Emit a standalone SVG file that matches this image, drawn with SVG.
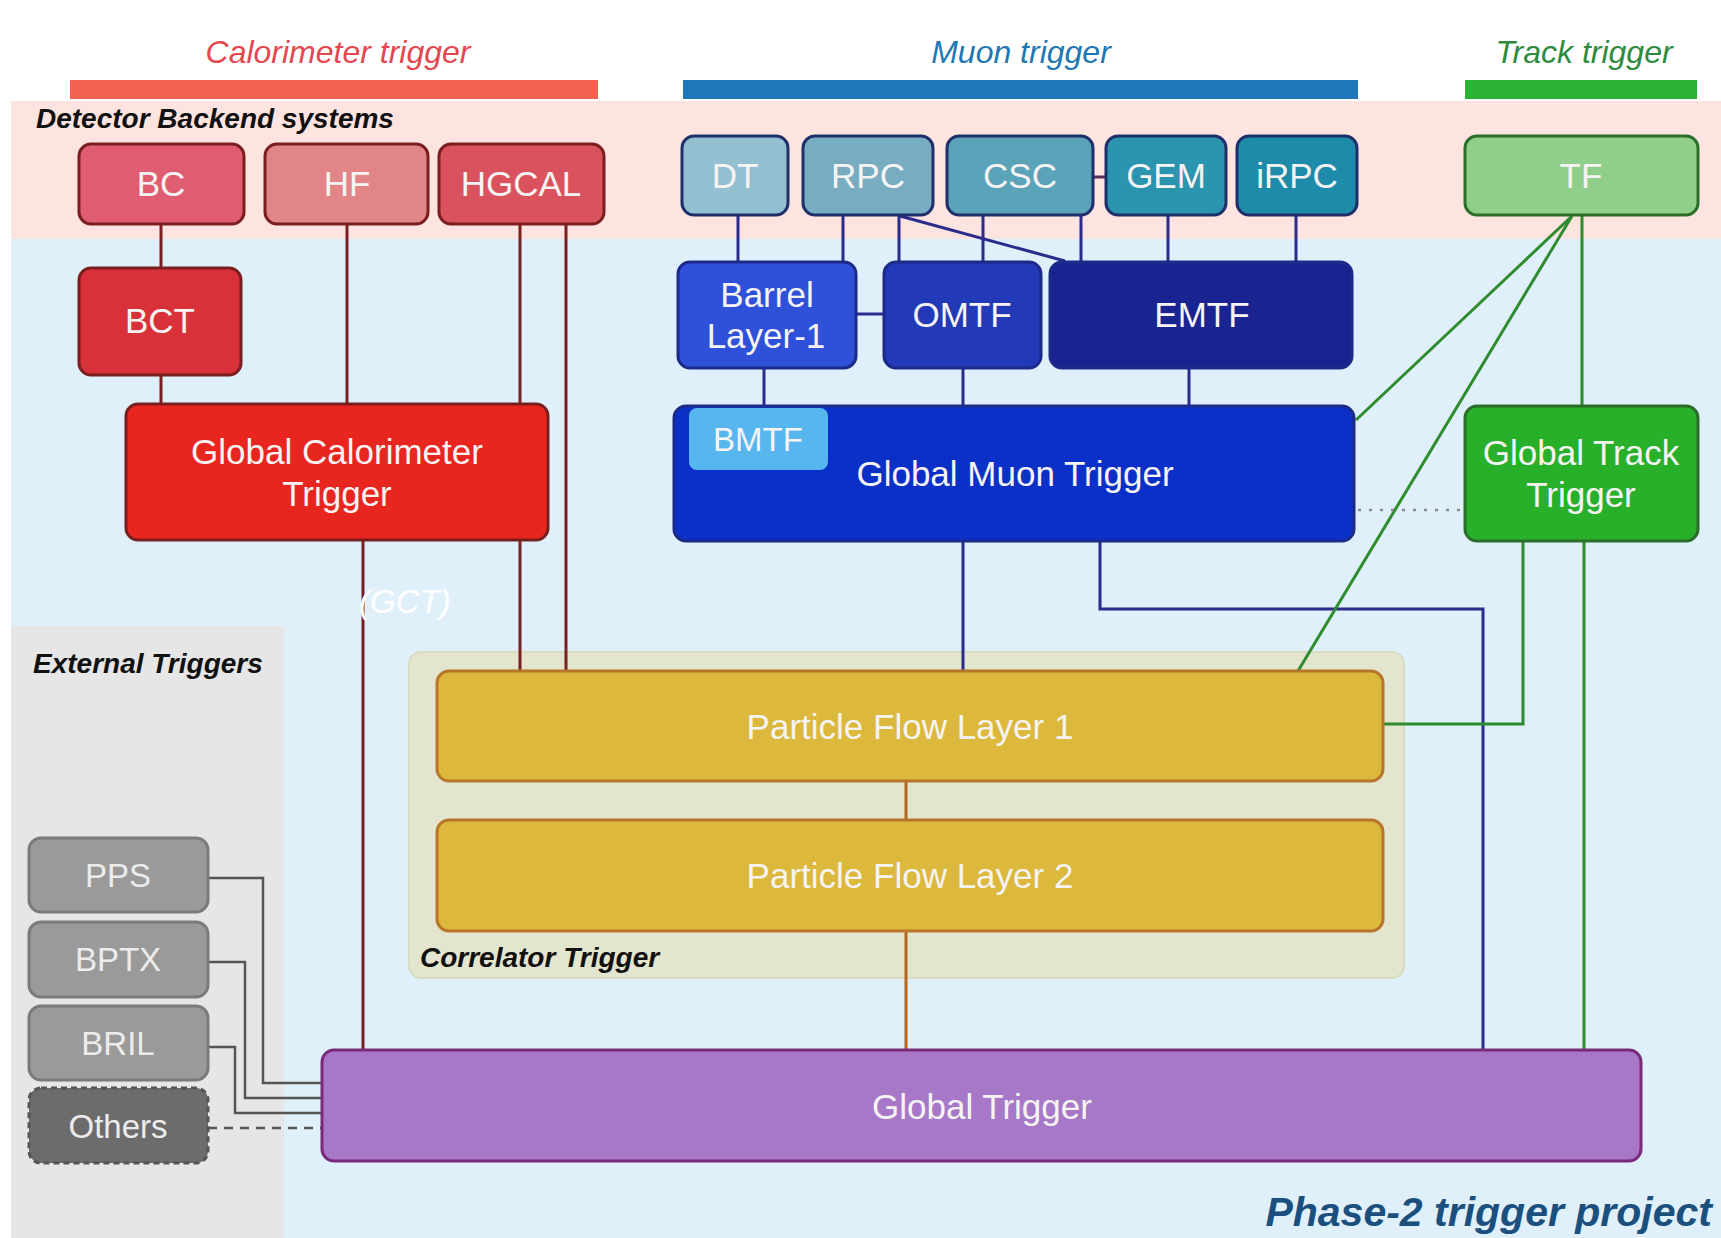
<svg xmlns="http://www.w3.org/2000/svg" width="1721" height="1238" viewBox="0 0 1721 1238">
<style>
  text { font-family: "Liberation Sans", Arial, sans-serif; }
  .lbl { fill: #f6f3f3; font-size: 35px; text-anchor: middle; }
  .ext { fill: #ececec; font-size: 33px; text-anchor: middle; }
  .sec { font-size: 32px; font-style: italic; text-anchor: middle; }
  .grp { font-size: 28px; font-weight: bold; font-style: italic; fill: #111; }
  .box { stroke-width: 3; }
  .cal { stroke: #7a1f1f; }
  .muo { stroke: #1e2f6a; }
  .muo2 { stroke: #1c2a8a; }
  .trk { stroke: #2a6e2a; }
  .extb { fill: #9a9a9a; stroke: #7b7b7b; }
  .c { fill: none; stroke-width: 3; }
  .cc { stroke: #7a1f1f; }
  .cm { stroke: #2b2b8c; }
  .ct { stroke: #2e8b2e; }
  .cp { stroke: #b5651d; }
  .cx { stroke: #555; stroke-width: 2.5; }
</style>

<!-- background zones -->
<rect x="0" y="0" width="1721" height="1238" fill="#ffffff"/>
<rect x="11" y="101" width="1710" height="138" fill="#fde4e1"/>
<rect x="11" y="239" width="1710" height="999" fill="#dff0fb"/>
<rect x="11" y="626" width="273" height="612" fill="#e6e6e6"/>

<!-- section headers -->
<g id="header-calorimeter">
  <text class="sec" x="338" y="63" fill="#e4474f">Calorimeter trigger</text>
  <rect x="70" y="80" width="528" height="19" fill="#f26450"/>
</g>
<g id="header-muon">
  <text class="sec" x="1021" y="63" fill="#1f78b4">Muon trigger</text>
  <rect x="683" y="80" width="675" height="19" fill="#1f77b9"/>
</g>
<g id="header-track">
  <text class="sec" x="1584" y="63" fill="#2e8b3e">Track trigger</text>
  <rect x="1465" y="80" width="232" height="19" fill="#2db334"/>
</g>

<text class="grp" x="36" y="128">Detector Backend systems</text>
<text class="grp" x="33" y="673">External Triggers</text>

<!-- correlator container -->
<g id="correlator-trigger">
  <rect x="409" y="652" width="995" height="326" rx="12" fill="#e3e5cf" stroke="#d8dcc2" stroke-width="2"/>
  <text class="grp" x="420" y="967">Correlator Trigger</text>
</g>

<!-- connectors -->
<g id="connectors">
  <!-- calorimeter -->
  <line class="c cc" x1="161" y1="224" x2="161" y2="268"/>
  <line class="c cc" x1="161" y1="375" x2="161" y2="404"/>
  <line class="c cc" x1="347" y1="224" x2="347" y2="404"/>
  <line class="c cc" x1="520" y1="224" x2="520" y2="671"/>
  <line class="c cc" x1="566" y1="224" x2="566" y2="671"/>
  <line class="c cc" x1="363" y1="540" x2="363" y2="1050"/>
  <!-- muon -->
  <line class="c cm" x1="738" y1="215" x2="738" y2="262"/>
  <line class="c cm" x1="843" y1="215" x2="843" y2="262"/>
  <line class="c cm" x1="899" y1="215" x2="899" y2="262"/>
  <line class="c cm" x1="983" y1="215" x2="983" y2="262"/>
  <line class="c cm" x1="1081" y1="215" x2="1081" y2="262"/>
  <line class="c cm" x1="1168" y1="215" x2="1168" y2="262"/>
  <line class="c cm" x1="1296" y1="215" x2="1296" y2="262"/>
  <line class="c cm" x1="900" y1="216" x2="1065" y2="261"/>
  <line class="c" stroke="#5a2a5a" x1="1093" y1="177" x2="1106" y2="177"/>
  <line class="c cm" x1="856" y1="314" x2="884" y2="314"/>
  <line class="c cm" x1="764" y1="368" x2="764" y2="406"/>
  <line class="c cm" x1="963" y1="368" x2="963" y2="406"/>
  <line class="c cm" x1="1189" y1="368" x2="1189" y2="406"/>
  <line class="c cm" x1="963" y1="541" x2="963" y2="671"/>
  <polyline class="c cm" points="1100,541 1100,609 1483,609 1483,1050"/>
  <!-- track -->
  <line class="c ct" x1="1582" y1="215" x2="1582" y2="406"/>
  <line class="c ct" x1="1572" y1="216" x2="1356" y2="420"/>
  <line class="c ct" x1="1572" y1="216" x2="1298" y2="671"/>
  <polyline class="c ct" points="1523,541 1523,724 1383,724"/>
  <line class="c ct" x1="1584" y1="541" x2="1584" y2="1050"/>
  <line fill="none" stroke="#8a8a8a" stroke-width="2.5" stroke-dasharray="3 8" x1="1358" y1="510" x2="1465" y2="510"/>
  <!-- particle flow -->
  <line class="c cp" x1="906" y1="781" x2="906" y2="820"/>
  <line class="c cp" x1="906" y1="931" x2="906" y2="1050"/>
  <!-- external -->
  <polyline class="c cx" points="208,878 263,878 263,1083 322,1083"/>
  <polyline class="c cx" points="208,962 245,962 245,1098 322,1098"/>
  <polyline class="c cx" points="208,1047 235,1047 235,1113 322,1113"/>
  <line class="c cx" stroke-dasharray="9 7" x1="208" y1="1128" x2="322" y2="1128"/>
</g>

<!-- calorimeter nodes -->
<g id="BC"><rect class="box cal" x="79" y="144" width="165" height="80" rx="12" fill="#e05c70"/><text class="lbl" x="161" y="196">BC</text></g>
<g id="HF"><rect class="box cal" x="265" y="144" width="163" height="80" rx="12" fill="#e28589"/><text class="lbl" x="347" y="196">HF</text></g>
<g id="HGCAL"><rect class="box cal" x="439" y="144" width="165" height="80" rx="12" fill="#d9525e"/><text class="lbl" x="521" y="196">HGCAL</text></g>
<g id="BCT"><rect class="box cal" x="79" y="268" width="162" height="107" rx="12" fill="#d8313a"/><text class="lbl" x="160" y="333">BCT</text></g>
<g id="GCT">
  <rect class="box cal" x="126" y="404" width="422" height="136" rx="12" fill="#e8251f"/>
  <text class="lbl" x="337" y="464">Global Calorimeter</text>
  <text class="lbl" x="337" y="506">Trigger</text>
</g>
<text x="359" y="613" font-size="33" font-style="italic" fill="#ffffff" font-family="'Liberation Sans', Arial, sans-serif">(GCT)</text>

<!-- muon nodes -->
<g id="DT"><rect class="box muo" x="682" y="136" width="106" height="79" rx="12" fill="#93c0d0"/><text class="lbl" x="735" y="188">DT</text></g>
<g id="RPC"><rect class="box muo" x="803" y="136" width="130" height="79" rx="12" fill="#78adc1"/><text class="lbl" x="868" y="188">RPC</text></g>
<g id="CSC"><rect class="box muo" x="947" y="136" width="146" height="79" rx="12" fill="#5ba3b9"/><text class="lbl" x="1020" y="188">CSC</text></g>
<g id="GEM"><rect class="box muo" x="1106" y="136" width="120" height="79" rx="12" fill="#2b94ae"/><text class="lbl" x="1166" y="188">GEM</text></g>
<g id="iRPC"><rect class="box muo" x="1237" y="136" width="120" height="79" rx="12" fill="#1e8bab"/><text class="lbl" x="1297" y="188">iRPC</text></g>
<g id="BarrelLayer1">
  <rect class="box muo2" x="678" y="262" width="178" height="106" rx="12" fill="#2f50d8"/>
  <text class="lbl" x="767" y="307">Barrel</text>
  <text class="lbl" x="766" y="348">Layer-1</text>
</g>
<g id="OMTF"><rect class="box muo2" x="884" y="262" width="157" height="106" rx="12" fill="#2239b8"/><text class="lbl" x="962" y="327">OMTF</text></g>
<g id="EMTF"><rect class="box muo2" x="1050" y="262" width="302" height="106" rx="12" fill="#1a2490"/><text class="lbl" x="1202" y="327">EMTF</text></g>
<g id="GMT">
  <rect class="box muo2" x="674" y="406" width="680" height="135" rx="12" fill="#0a30c8"/>
  <rect x="689" y="408" width="139" height="62" rx="8" fill="#58b6ef"/>
  <text class="lbl" x="758" y="451" style="font-size:33px">BMTF</text>
  <text class="lbl" x="1015" y="486">Global Muon Trigger</text>
</g>

<!-- track nodes -->
<g id="TF"><rect class="box trk" x="1465" y="136" width="233" height="79" rx="12" fill="#90cf8b"/><text class="lbl" x="1581" y="188">TF</text></g>
<g id="GTT">
  <rect class="box trk" x="1465" y="406" width="233" height="135" rx="12" fill="#28b02b"/>
  <text class="lbl" x="1581" y="465">Global Track</text>
  <text class="lbl" x="1581" y="507">Trigger</text>
</g>

<!-- correlator nodes -->
<g id="PF1"><rect class="box" stroke="#b8762a" x="437" y="671" width="946" height="110" rx="12" fill="#dcb83c"/><text class="lbl" x="910" y="739">Particle Flow Layer 1</text></g>
<g id="PF2"><rect class="box" stroke="#b8762a" x="437" y="820" width="946" height="111" rx="12" fill="#dcb83c"/><text class="lbl" x="910" y="888">Particle Flow Layer 2</text></g>

<!-- global trigger -->
<g id="GT"><rect class="box" stroke="#7a2a7a" x="322" y="1050" width="1319" height="111" rx="12" fill="#a878c8"/><text class="lbl" x="982" y="1119" fill="#f8eefa">Global Trigger</text></g>

<!-- external triggers -->
<g id="PPS"><rect class="box extb" x="29" y="838" width="179" height="74" rx="12"/><text class="ext" x="118" y="887">PPS</text></g>
<g id="BPTX"><rect class="box extb" x="29" y="922" width="179" height="75" rx="12"/><text class="ext" x="118" y="971">BPTX</text></g>
<g id="BRIL"><rect class="box extb" x="29" y="1006" width="179" height="74" rx="12"/><text class="ext" x="118" y="1055">BRIL</text></g>
<g id="Others"><rect x="29" y="1088" width="179" height="75" rx="12" fill="#6c6c6c" stroke="#555" stroke-width="3" stroke-dasharray="6 4"/><text class="ext" x="118" y="1138">Others</text></g>

<text x="1712" y="1226" text-anchor="end" font-size="41" font-weight="bold" font-style="italic" fill="#1b4f7e">Phase-2 trigger project</text>
</svg>
